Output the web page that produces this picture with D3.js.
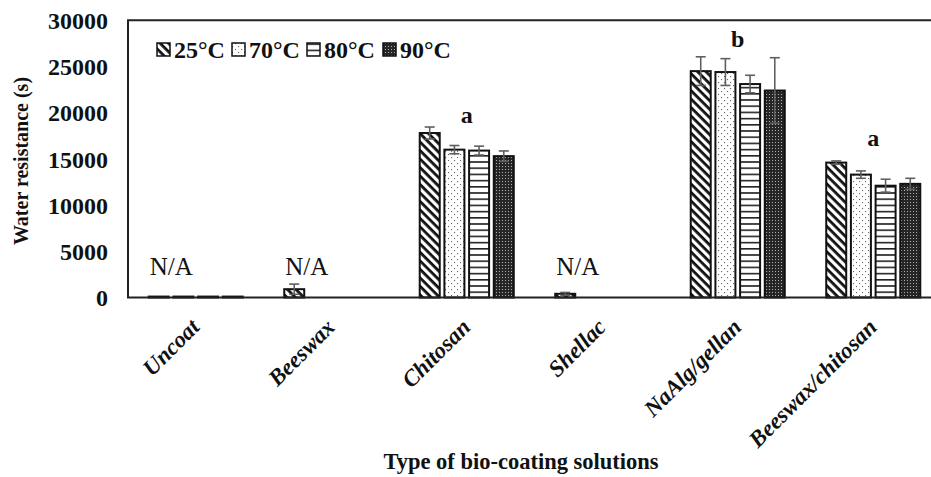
<!DOCTYPE html>
<html>
<head>
<meta charset="utf-8">
<script src="https://cdn.jsdelivr.net/npm/d3@7"></script>
<style>
  html, body { margin: 0; padding: 0; background: #fff; }
  svg { display: block; }
  text { font-family: "Liberation Serif", "Times New Roman", serif; fill: #111; }
</style>
</head>
<body>
<svg id="chart" width="931" height="477"></svg>
<script>
// ---- Data ----
const categories = ["Uncoat", "Beeswax", "Chitosan", "Shellac", "NaAlg/gellan", "Beeswax/chitosan"];
const seriesNames = ["25°C", "70°C", "80°C", "90°C"];
const values25 = [100, 900, 17800, 400, 24500, 14600];
const values70 = [100, null, 16000, null, 24400, 13300];
const values80 = [100, null, 15900, null, 23100, 12100];
const values90 = [100, null, 15300, null, 22400, 12300];
const errors25 = [0, 550, 650, 150, 1550, 180];
const errors70 = [0, null, 450, null, 1450, 400];
const errors80 = [0, null, 480, null, 950, 700];
const errors90 = [0, null, 560, null, 3550, 600];
const yTicks = [0, 5000, 10000, 15000, 20000, 25000, 30000];
const naCategories = ["Uncoat", "Beeswax", "Shellac"];
const letterCategories = ["Chitosan", "NaAlg/gellan", "Beeswax/chitosan"];
const letterTexts = ["a", "b", "a"];
const letterValues = [18900, 27150, 16430];

const seriesValues = [values25, values70, values80, values90];
const seriesErrors = [errors25, errors70, errors80, errors90];
const patternIds = ["p25", "p70", "p80", "p90"];

// ---- Layout ----
const svg = d3.select("#chart");
const plotLeft = 128, plotRight = 941, plotTop = 20.3, plotBottom = 297.5;

const x0 = d3.scaleBand().domain(categories).range([plotLeft, plotRight]).paddingInner(0).paddingOuter(0);
const x1 = d3.scaleBand().domain(seriesNames).range([0, x0.bandwidth()]).paddingInner(0.19).paddingOuter(0.84);
const y = d3.scaleLinear().domain([0, 30000]).range([plotBottom, plotTop]);

// ---- Patterns ----
const defs = svg.append("defs");
const p25 = defs.append("pattern").attr("id", "p25").attr("patternUnits", "userSpaceOnUse")
  .attr("width", 6).attr("height", 6).attr("patternTransform", "rotate(45)");
p25.append("rect").attr("width", 6).attr("height", 6).attr("fill", "#fff");
p25.append("rect").attr("x", 0).attr("y", 0).attr("width", 6).attr("height", 2.8).attr("fill", "#111");
const p70 = defs.append("pattern").attr("id", "p70").attr("patternUnits", "userSpaceOnUse")
  .attr("width", 6).attr("height", 6);
p70.append("rect").attr("width", 6).attr("height", 6).attr("fill", "#fff");
p70.append("rect").attr("x", 1).attr("y", 1).attr("width", 1.1).attr("height", 1.1).attr("fill", "#666");
p70.append("rect").attr("x", 4).attr("y", 4).attr("width", 1.1).attr("height", 1.1).attr("fill", "#666");
const p80 = defs.append("pattern").attr("id", "p80").attr("patternUnits", "userSpaceOnUse")
  .attr("width", 6).attr("height", 6.2);
p80.append("rect").attr("width", 6).attr("height", 6.2).attr("fill", "#fff");
p80.append("rect").attr("x", 0).attr("y", 0).attr("width", 6).attr("height", 1.6).attr("fill", "#222");
const p90 = defs.append("pattern").attr("id", "p90").attr("patternUnits", "userSpaceOnUse")
  .attr("width", 3).attr("height", 3);
p90.append("rect").attr("width", 3).attr("height", 3).attr("fill", "#262626");
p90.append("rect").attr("x", 1).attr("y", 1).attr("width", 1).attr("height", 1).attr("fill", "#b0b0b0");

// ---- Bars ----
const barData = [];
categories.forEach((c, i) => {
  seriesNames.forEach((s, j) => {
    const v = seriesValues[j][i];
    if (v !== null) barData.push({ cat: c, s: s, j: j, v: v, e: seriesErrors[j][i] });
  });
});

svg.append("g").selectAll("rect").data(barData).join("rect")
  .attr("x", d => x0(d.cat) + x1(d.s))
  .attr("y", d => y(d.v))
  .attr("width", x1.bandwidth())
  .attr("height", d => y(0) - y(d.v))
  .attr("fill", d => `url(#${patternIds[d.j]})`)
  .attr("stroke", "#111")
  .attr("stroke-width", 2);

// ---- Error bars ----
const errG = svg.append("g").attr("stroke", "#5f5f5f").attr("stroke-width", 1.6).attr("fill", "none");
barData.filter(d => d.e > 0).forEach(d => {
  const cx = x0(d.cat) + x1(d.s) + x1.bandwidth() / 2;
  const yt = y(d.v + d.e), yb = y(Math.max(0, d.v - d.e));
  errG.append("line").attr("x1", cx).attr("x2", cx).attr("y1", yt).attr("y2", yb);
  errG.append("line").attr("x1", cx - 5).attr("x2", cx + 5).attr("y1", yt).attr("y2", yt);
  errG.append("line").attr("x1", cx - 5).attr("x2", cx + 5).attr("y1", yb).attr("y2", yb);
});

// ---- Plot frame ----
svg.append("path")
  .attr("d", `M${plotRight},${plotTop}H${plotLeft}V${plotBottom}H${plotRight}`)
  .attr("fill", "none").attr("stroke", "#222").attr("stroke-width", 2);

// ---- Y axis ----
const yAxis = d3.axisLeft(y).tickValues(yTicks).tickSize(0).tickPadding(20).tickFormat(d3.format("d"));
const yg = svg.append("g").attr("transform", `translate(${plotLeft},0)`).call(yAxis);
yg.select(".domain").remove();
yg.selectAll("text")
  .style("font-family", '"Liberation Serif", serif')
  .style("font-size", "24px").style("font-weight", "bold").attr("fill", "#111")
  .attr("dy", "0.34em");

svg.append("text")
  .attr("transform", `translate(28,161) rotate(-90)`)
  .attr("text-anchor", "middle")
  .style("font-size", "20px").style("font-weight", "bold")
  .text("Water resistance (s)");

// ---- X axis labels ----
const xAxis = d3.axisBottom(x0).tickSize(0).tickPadding(0);
const xg = svg.append("g").attr("transform", `translate(0,${plotBottom})`).call(xAxis);
xg.select(".domain").remove();
xg.selectAll("text")
  .style("font-family", '"Liberation Serif", serif')
  .style("font-size", "23px").style("font-weight", "bold").style("font-style", "italic")
  .attr("fill", "#111")
  .attr("text-anchor", "end")
  .attr("dy", null)
  .attr("y", 0)
  .attr("transform", "translate(5,31) rotate(-45)");

svg.append("text")
  .attr("x", 521).attr("y", 469)
  .attr("text-anchor", "middle")
  .style("font-size", "22.5px").style("font-weight", "bold")
  .text("Type of bio-coating solutions");

// ---- Legend ----
const legendX = [157, 232, 307, 383];
const lg = svg.append("g");
seriesNames.forEach((s, j) => {
  lg.append("rect").attr("x", legendX[j]).attr("y", 43).attr("width", 13).attr("height", 13)
    .attr("fill", `url(#${patternIds[j]})`).attr("stroke", "#111").attr("stroke-width", 1.5);
  lg.append("text").attr("x", legendX[j] + 17).attr("y", 58)
    .style("font-size", "24px").style("font-weight", "bold").text(s);
});

// ---- Annotations ----
naCategories.forEach(c => {
  svg.append("text")
    .attr("x", x0(c) + x1(seriesNames[0]) + 1)
    .attr("y", 275)
    .style("font-size", "25px")
    .text("N/A");
});
letterCategories.forEach((c, i) => {
  svg.append("text")
    .attr("x", x0(c) + x0.bandwidth() / 2)
    .attr("y", y(letterValues[i]))
    .attr("text-anchor", "middle")
    .style("font-size", "24px").style("font-weight", "bold")
    .text(letterTexts[i]);
});
</script>
</body>
</html>
